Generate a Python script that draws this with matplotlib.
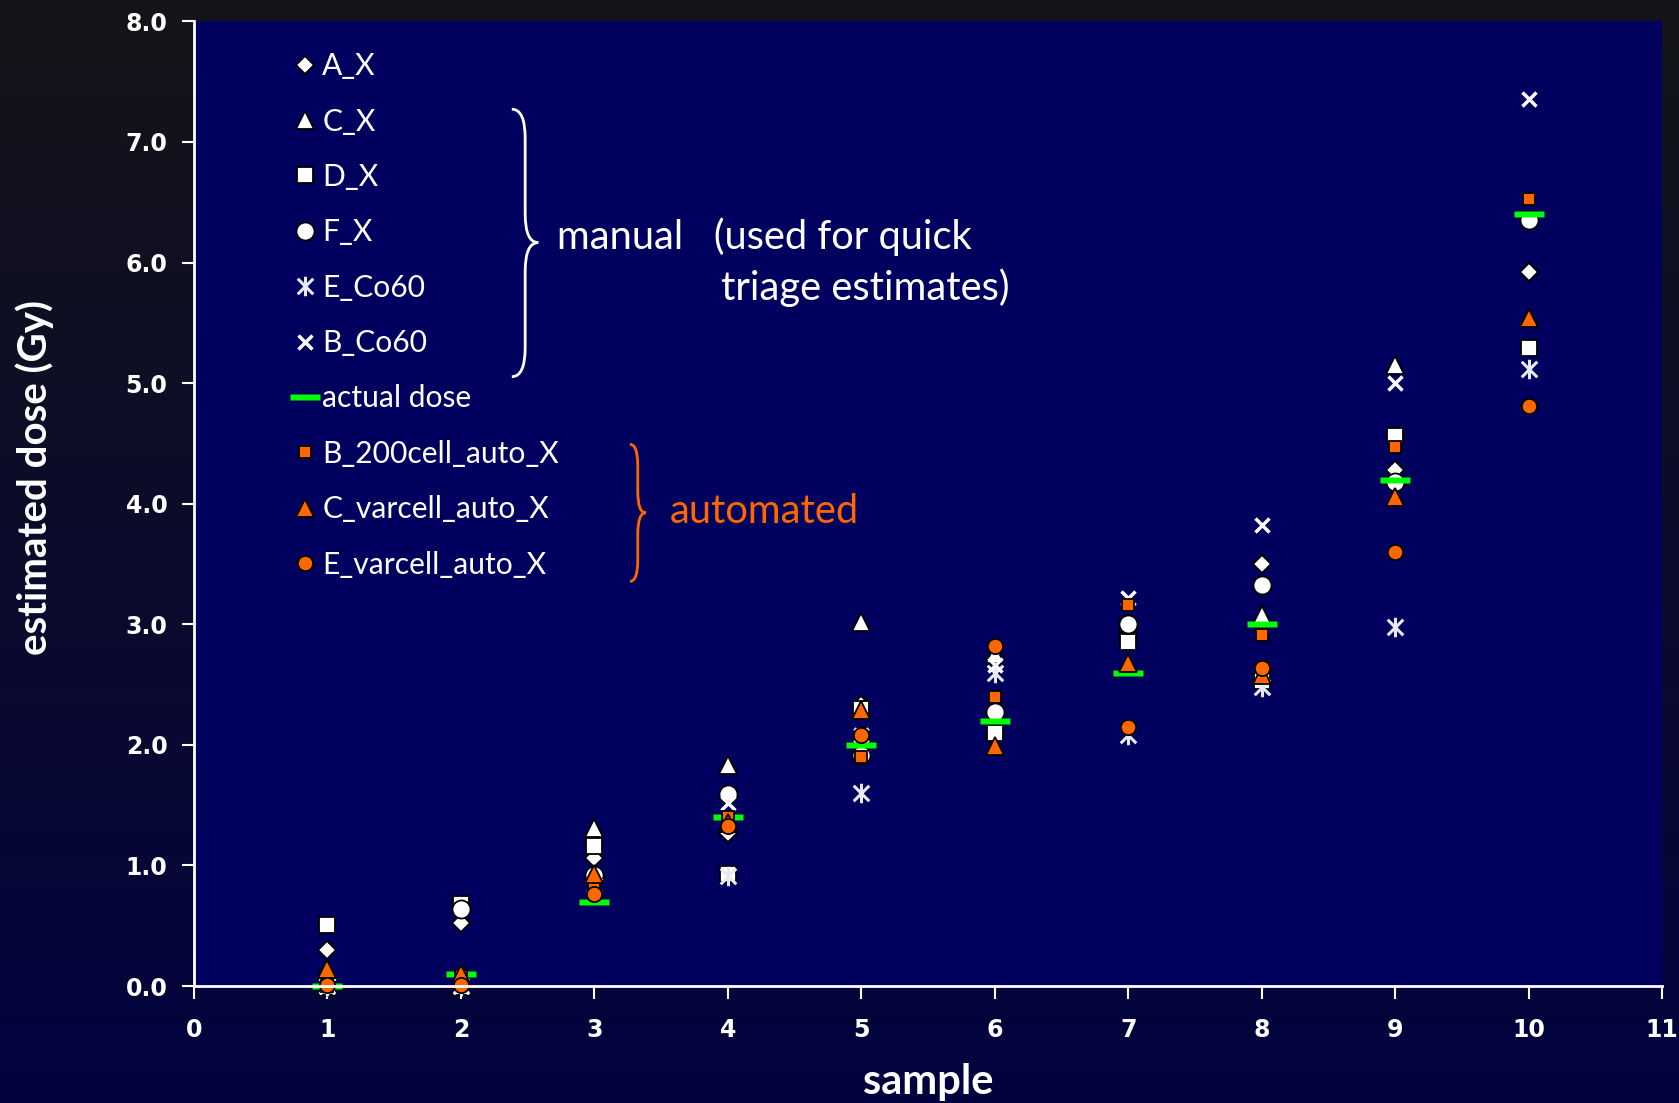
import numpy as np
import matplotlib
matplotlib.use("Agg")
import matplotlib.pyplot as plt
from matplotlib.path import Path
from matplotlib.patches import PathPatch

# data
samples = [1, 2, 3, 4, 5, 6, 7, 8, 9, 10]
A_X = [0.30, 0.52, 1.06, 1.27, 2.33, 2.72, 2.95, 3.50, 4.28, 5.92]
C_X = [0.00, 0.00, 1.31, 1.83, 3.02, 2.75, 2.95, 3.08, 5.15, np.nan]
D_X = [0.51, 0.68, 1.16, 0.93, 2.30, 2.10, 2.85, 2.53, 4.56, 5.29]
F_X = [0.00, 0.64, 0.92, 1.59, 1.92, 2.27, 3.00, 3.33, 4.18, 6.35]
E_Co60 = [0.00, 0.00, 0.83, 0.91, 1.60, 2.60, 2.08, 2.48, 2.98, 5.12]
B_Co60 = [0.00, 0.00, 0.84, 1.52, 2.08, 2.66, 3.22, 3.82, 5.00, 7.36]
actual_dose = [0.0, 0.1, 0.7, 1.4, 2.0, 2.2, 2.6, 3.0, 4.2, 6.4]
B_200cell_auto_X = [0.00, 0.08, 0.84, 1.40, 1.90, 2.40, 3.16, 2.91, 4.47, 6.53]
C_varcell_auto_X = [0.14, 0.10, 0.93, 1.35, 2.29, 1.99, 2.68, 2.58, 4.06, 5.54]
E_varcell_auto_X = [0.01, 0.01, 0.76, 1.33, 2.08, 2.82, 2.15, 2.64, 3.60, 4.81]

orange = '#ff6600'
navy = '#00005f'

fig = plt.figure(figsize=(16.79, 11.03), dpi=100)

# gradient background
bg = fig.add_axes([0, 0, 1, 1], zorder=-10)
grad = np.linspace(0, 1, 256)[:, None]
top = np.array([0.08, 0.08, 0.095])
bot = np.array([0.01, 0.01, 0.25])
img = top[None, None, :] * (1 - grad[:, :, None]) + bot[None, None, :] * grad[:, :, None]
bg.imshow(img, aspect='auto', extent=[0, 1, 0, 1])
bg.axis('off')

ax = fig.add_axes([0.1155, 0.106, 0.8745, 0.8746])
ax.set_facecolor(navy)

# custom markers
asterisk = Path([(0, -1), (0, 1), (-0.8, -0.8), (0.8, 0.8), (-0.8, 0.8), (0.8, -0.8)],
                [Path.MOVETO, Path.LINETO, Path.MOVETO, Path.LINETO, Path.MOVETO, Path.LINETO])
bar = [(-2, -0.45), (2, -0.45), (2, 0.45), (-2, 0.45), (-2, -0.45)]

kw = dict(linestyle='none', clip_on=False)
ax.plot(samples, A_X, marker='D', ms=9, mfc='white', mec='black', mew=1.3, label='A_X', **kw)
ax.plot(samples, C_X, marker='^', ms=13, mfc='white', mec='black', mew=1.3, label='C_X', **kw)
ax.plot(samples, D_X, marker='s', ms=12, mfc='white', mec='black', mew=1.3, label='D_X', **kw)
ax.plot(samples, F_X, marker='o', ms=13, mfc='white', mec='black', mew=1.3, label='F_X', **kw)
ax.plot(samples, E_Co60, marker=asterisk, ms=14, mfc='none', mec='#e8e8f0', mew=2.2, label='E_Co60', **kw)
ax.plot(samples, B_Co60, marker='x', ms=10, mec='white', mew=2.5, label='B_Co60', **kw)
ax.plot(samples, actual_dose, marker=bar, ms=21, mfc='#00ff00', mec='none', label='actual dose', **kw)
ax.plot(samples, B_200cell_auto_X, marker='s', ms=9, mfc=orange, mec='black', mew=1.3,
        label='B_200cell_auto_X', **kw)
ax.plot(samples, C_varcell_auto_X, marker='^', ms=12.5, mfc=orange, mec='black', mew=1.3,
        label='C_varcell_auto_X', **kw)
ax.plot(samples, E_varcell_auto_X, marker='o', ms=11, mfc=orange, mec='black', mew=1.3,
        label='E_varcell_auto_X', **kw)

ax.set_xlim(0, 11)
ax.set_ylim(0, 8)
ax.set_xticks(range(0, 12))
ax.set_yticks(np.arange(0, 8.1, 1.0))
ax.set_yticklabels(['%.1f' % v for v in np.arange(0, 8.1, 1.0)])
for s in ['top', 'right']:
    ax.spines[s].set_visible(False)
for s in ['left', 'bottom']:
    ax.spines[s].set_color('white')
    ax.spines[s].set_linewidth(2)
ax.tick_params(colors='white', length=9, width=1.5, direction='out')
ax.tick_params(axis='x', pad=14)
ax.tick_params(axis='y', pad=10)
for lab in ax.get_xticklabels() + ax.get_yticklabels():
    lab.set_fontweight('bold')
    lab.set_fontsize(17)
    lab.set_color('white')

ax.set_xlabel('sample', fontsize=30, fontweight='bold', color='white', family='Lato')
ax.set_ylabel('estimated dose (Gy)', fontsize=29, fontweight='bold', color='white', family='Lato')
ax.xaxis.set_label_coords(0.5, -0.08)
ax.yaxis.set_label_coords(-0.1087, 0.527)
ax.yaxis.label.set_va('center')

leg = ax.legend(loc='upper left', bbox_to_anchor=(0.0675, 0.968), frameon=False, numpoints=1,
                handlelength=0.8, handletextpad=0.17, labelspacing=0.912, borderpad=0,
                borderaxespad=0, prop={'family': 'Lato', 'size': 21.6})
for t in leg.get_texts():
    t.set_color('white')


def brace(x0, xs, x1, ytop, ymid, ybot, r, color):
    verts = [(x0, ytop), (xs, ytop), (xs, ytop - r),
             (xs, ymid + r), (xs, ymid), (x1, ymid),
             (xs, ymid), (xs, ymid - r),
             (xs, ybot + r), (xs, ybot), (x0, ybot)]
    codes = [Path.MOVETO, Path.CURVE3, Path.CURVE3,
             Path.LINETO, Path.CURVE3, Path.CURVE3,
             Path.CURVE3, Path.CURVE3,
             Path.LINETO, Path.CURVE3, Path.CURVE3]
    ax.add_patch(PathPatch(Path(verts, codes), transform=ax.transAxes, fc='none', ec=color,
                           lw=2, clip_on=False))


brace(0.2165, 0.2256, 0.2345, 0.909, 0.7707, 0.6317, 0.03, 'white')
brace(0.2969, 0.3023, 0.3078, 0.5616, 0.4906, 0.4195, 0.022, orange)

ax.text(0.2473, 0.777, 'manual   (used for quick', transform=ax.transAxes, color='white',
        fontsize=28.7, family='Lato', va='center', ha='left')
ax.text(0.3589, 0.7236, 'triage estimates)', transform=ax.transAxes, color='white',
        fontsize=28.7, family='Lato', va='center', ha='left')
ax.text(0.3238, 0.4917, 'automated', transform=ax.transAxes, color=orange,
        fontsize=28.7, family='Lato', va='center', ha='left')

fig.savefig('out.png', dpi=100)
